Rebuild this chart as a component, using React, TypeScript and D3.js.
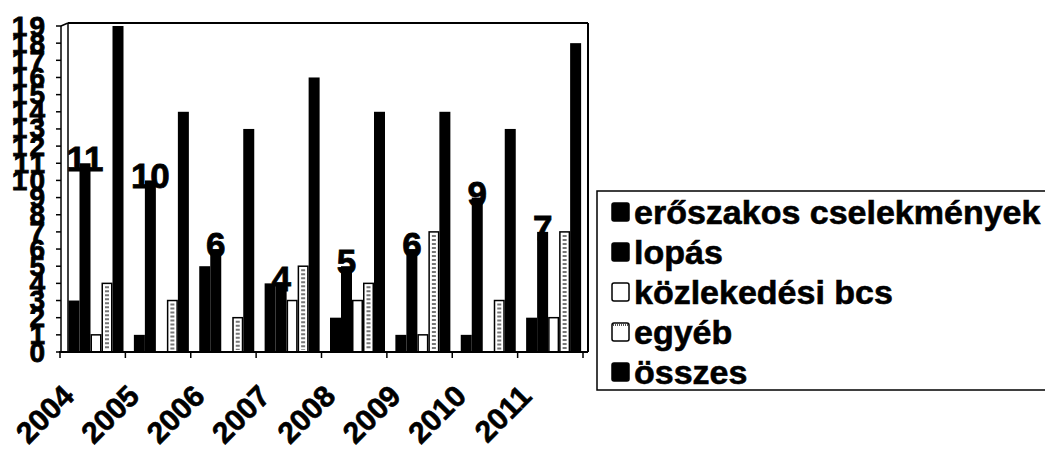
import React from 'react';
import * as d3 from 'd3';

const years = ['2004', '2005', '2006', '2007', '2008', '2009', '2010', '2011'];
const seriesKeys = ['eroszakos', 'lopas', 'kozlekedesi', 'egyeb', 'osszes'];
const seriesNames = ['erőszakos cselekmények', 'lopás', 'közlekedési bcs', 'egyéb', 'összes'];
const eroszakos = [3, 1, 5, 4, 2, 1, 1, 2];
const lopas = [11, 10, 6, 4, 5, 6, 9, 7];
const kozlekedesi = [1, 0, 0, 3, 3, 1, 0, 2];
const egyeb = [4, 3, 2, 5, 4, 7, 3, 7];
const osszes = [19, 14, 13, 16, 14, 14, 13, 18];
const yTicks = d3.range(0, 20);

const values: Record<string, number[]> = { eroszakos, lopas, kozlekedesi, egyeb, osszes };
const FONT = '"Liberation Sans", Arial, sans-serif';

export default function App() {
  const W = 1045, H = 450;
  const x = d3.scaleBand<string>().domain(years).range([60, 583]);
  const xs = d3.scaleBand<string>().domain(seriesKeys).range([8.5, 63.5]);
  const y = d3.scaleLinear().domain([0, 19]).range([352, 26]);
  const bw = xs.bandwidth();

  const bars: JSX.Element[] = [];
  seriesKeys.forEach((k) => {
    values[k].forEach((v, i) => {
      const bx = (x(years[i]) as number) + (xs(k) as number);
      const top = y(v);
      const h = y(0) - top;
      if (v <= 0) return;
      if (k === 'kozlekedesi') {
        bars.push(<rect key={k + i} x={bx + 0.75} y={top} width={bw - 1.5} height={h} fill="#fff" stroke="#000" strokeWidth={1.5} />);
      } else if (k === 'egyeb') {
        bars.push(
          <g key={k + i}>
            <rect x={bx + 0.75} y={top} width={bw - 1.5} height={h} fill="#fff" stroke="#000" strokeWidth={1.5} />
            <line x1={bx + bw / 2} x2={bx + bw / 2} y1={top + 3} y2={y(0) - 2} stroke="#777" strokeWidth={4} strokeDasharray="2,2" />
          </g>
        );
      } else {
        bars.push(<rect key={k + i} x={bx} y={top} width={bw} height={h} fill="#000" />);
      }
    });
  });

  return (
    <svg width={W} height={H} style={{ position: 'absolute', left: 0, top: 0, background: '#fff' }} fontFamily={FONT}>
      <rect x={0} y={0} width={W} height={H} fill="#fff" />
      {/* plot frame */}
      <line x1={68} y1={23} x2={588} y2={23} stroke="#000" strokeWidth={2} />
      <line x1={588} y1={23} x2={588} y2={352} stroke="#000" strokeWidth={2} />
      <line x1={68} y1={23} x2={68} y2={352} stroke="#000" strokeWidth={1.5} />
      <line x1={61} y1={26} x2={68} y2={23} stroke="#000" strokeWidth={1.5} />
      {bars}
      {/* y axis */}
      <line x1={61} y1={26} x2={61} y2={353} stroke="#000" strokeWidth={1.5} />
      {yTicks.map((t) => (
        <g key={'yt' + t}>
          <line x1={56} x2={61} y1={y(t)} y2={y(t)} stroke="#000" strokeWidth={1.5} />
          <text x={47} y={y(t)} textAnchor="end" dominantBaseline="central" fontSize={28} fontWeight="bold" letterSpacing={2} stroke="#000" strokeWidth={0.8}>{t}</text>
        </g>
      ))}
      {/* x axis */}
      <line x1={59} y1={352} x2={588} y2={352} stroke="#000" strokeWidth={2} />
      {years.concat(['end']).map((yr, i) => {
        const tx = i < years.length ? (x(yr) as number) : x.range()[1];
        return <line key={'xt' + i} x1={tx} x2={tx} y1={352} y2={358} stroke="#000" strokeWidth={1.5} />;
      })}
      {years.map((yr) => {
        const cx = (x(yr) as number) + x.bandwidth() / 2 - 17;
        const cy = 398;
        return (
          <text key={'xl' + yr} x={cx} y={cy} textAnchor="end" fontSize={30} fontWeight="bold" stroke="#000" strokeWidth={0.6} transform={`rotate(-45 ${cx} ${cy})`}>{yr}</text>
        );
      })}
      {/* data labels on lopás */}
      {lopas.map((v, i) => {
        const cx = (x(years[i]) as number) + (xs('lopas') as number) + bw / 2;
        return (
          <text key={'dl' + i} x={cx} y={y(v) + 8} textAnchor="middle" fontSize={35} fontWeight="bold" stroke="#000" strokeWidth={0.8}>{v}</text>
        );
      })}
      {/* legend */}
      <rect x={597} y={191} width={470} height={199} fill="#fff" stroke="#000" strokeWidth={1.5} />
      {seriesKeys.map((k, i) => {
        const cy = 212 + i * 40;
        const black = k === 'eroszakos' || k === 'lopas' || k === 'osszes';
        return (
          <g key={'lg' + k}>
            <rect x={612} y={cy - 9} width={17} height={18} fill={black ? '#000' : '#fff'} stroke="#000" strokeWidth={1.5} rx={2} />
            {k === 'egyeb' && <line x1={613} x2={628} y1={cy - 7} y2={cy - 7} stroke="#555" strokeWidth={2} strokeDasharray="1,1" />}
            <text x={634} y={cy} dominantBaseline="central" fontSize={34} fontWeight="bold" stroke="#000" strokeWidth={0.6}>{seriesNames[i]}</text>
          </g>
        );
      })}
    </svg>
  );
}
